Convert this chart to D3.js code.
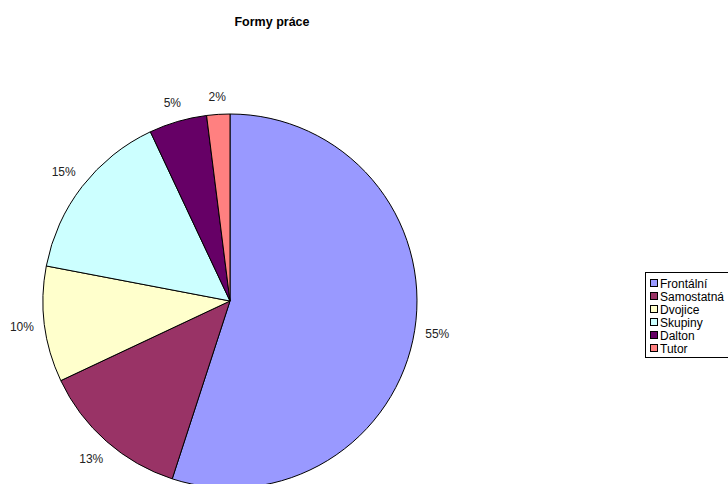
<!DOCTYPE html>
<html>
<head>
<meta charset="utf-8">
<script src="https://cdn.jsdelivr.net/npm/d3@7"></script>
<style>
  body { margin: 0; background: #fff; }
  svg text { font-family: Arial, "Liberation Sans", sans-serif; fill: #000; }
</style>
</head>
<body>
<div id="chart"></div>
<script>
const categories = ['Frontální', 'Samostatná', 'Dvojice', 'Skupiny', 'Dalton', 'Tutor'];
const values = [55, 13, 10, 15, 5, 2];
const colors = ['#9999FF', '#993366', '#FFFFCC', '#CCFFFF', '#660066', '#FF8080'];

const width = 728;
const height = 484;
const cx = 230, cy = 301, radius = 187;

const svg = d3.select('#chart')
    .append('svg')
    .attr('width', width)
    .attr('height', height);

svg.append('text')
    .attr('x', 272)
    .attr('y', 26)
    .style('font-size', '12.5px')
    .style('font-weight', 'bold')
    .style('text-anchor', 'middle')
    .text('Formy práce');

const data = categories.map((c, i) => ({ name: c, val: values[i], color: colors[i] }));
const total = d3.sum(values);

const pie = d3.pie().sort(null).value(d => d.val);
const arc = d3.arc().innerRadius(0).outerRadius(radius);

const chart = svg.append('g')
    .attr('transform', `translate(${cx},${cy})`);

const arcs = pie(data);

chart.selectAll('.slice')
    .data(arcs)
    .enter()
    .append('path')
    .classed('slice', true)
    .attr('d', arc)
    .style('fill', d => d.data.color)
    .style('stroke', '#000')
    .style('stroke-width', 1);

// label sits just outside the rim, pushed out by the half-size of its box
function labelPos(d) {
    const a = (d.startAngle + d.endAngle) / 2;
    const sx = Math.sin(a), sy = -Math.cos(a);
    const dist = radius + 10 + Math.abs(sx) * 12 + Math.abs(sy) * 6.5;
    return [sx * dist, sy * dist];
}

chart.selectAll('.slice-label')
    .data(arcs)
    .enter()
    .append('text')
    .classed('slice-label', true)
    .attr('transform', d => `translate(${labelPos(d)})`)
    .attr('dy', '0.35em')
    .style('font-size', '12px')
    .style('text-anchor', 'middle')
    .style('fill', '#222')
    .text(d => Math.round(d.data.val / total * 100) + '%');

// legend
const legend = svg.append('g')
    .attr('transform', 'translate(645,272)');

legend.append('rect')
    .attr('x', 0.5)
    .attr('y', 0.5)
    .attr('width', 100)
    .attr('height', 85)
    .style('fill', '#fff')
    .style('stroke', '#000')
    .style('stroke-width', 1);

const items = legend.selectAll('.legend-item')
    .data(data)
    .enter()
    .append('g')
    .classed('legend-item', true)
    .attr('transform', (d, i) => `translate(5,${12 + i * 13})`);

items.append('rect')
    .attr('x', 0.5)
    .attr('y', -4.5)
    .attr('width', 7)
    .attr('height', 7)
    .style('fill', d => d.color)
    .style('stroke', '#000')
    .style('stroke-width', 1);

items.append('text')
    .attr('x', 10)
    .attr('y', 0)
    .attr('dy', '0.35em')
    .style('font-size', '12px')
    .text(d => d.name);
</script>
</body>
</html>
